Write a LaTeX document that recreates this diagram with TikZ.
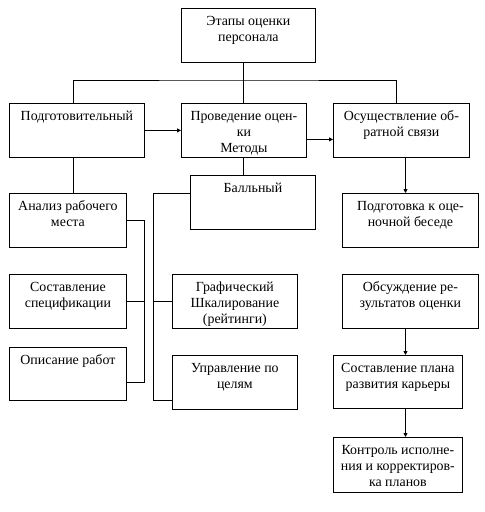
\documentclass[tikz,border=0pt]{standalone}
\usepackage{fontspec}
\setmainfont{Liberation Serif}
\usetikzlibrary{arrows.meta}
\newcommand\stagetext[3]{\parbox[c][#2][t]{#1}{\centering\rule{0pt}{17.5pt}#3\par}}
\begin{document}
\begin{tikzpicture}[
  x=1pt, y=-1pt,
  stage/.style={draw, line width=0.8pt, inner sep=0pt, anchor=north west,
    font=\fontsize{13.9}{15.7}\selectfont},
  link/.style={line width=0.8pt},
  arrow/.style={-{Triangle[length=4pt,width=4pt]}, line width=0.8pt}
]
\useasboundingbox (0,0) rectangle (485,512);
% top and the three stages
\node[stage] (top) at (181,8) {\stagetext{134pt}{54pt}{Этапы оценки\\персонала}};
\node[stage] (prep) at (9,103) {\stagetext{135pt}{54pt}{Подготовительный}};
\node[stage] (conduct) at (181,103) {\stagetext{125pt}{54pt}{Проведение оцен-\\ки\\Методы}};
\node[stage] (feedback) at (333,103) {\stagetext{136pt}{54pt}{Осуществление об-\\ратной связи}};
% left column
\node[stage] (analysis) at (9,193) {\stagetext{117pt}{54pt}{Анализ рабочего\\места}};
\node[stage] (spec) at (9,274) {\stagetext{117pt}{54pt}{Составление\\спецификации}};
\node[stage] (descr) at (9,347) {\stagetext{117pt}{53pt}{Описание работ}};
% methods
\node[stage] (ball) at (190,175) {\stagetext{125pt}{54pt}{Балльный}};
\node[stage] (graph) at (172,274) {\stagetext{125pt}{54pt}{Графический\\Шкалирование\\(рейтинги)}};
\node[stage] (goals) at (172,355) {\stagetext{125pt}{54pt}{Управление по\\целям}};
% right column
\node[stage] (talkprep) at (342,193) {\stagetext{136pt}{54pt}{Подготовка к оце-\\ночной беседе}};
\node[stage] (discuss) at (342,274) {\stagetext{136pt}{54pt}{Обсуждение ре-\\зультатов оценки}};
\node[stage] (career) at (333,355) {\stagetext{129pt}{53pt}{Составление плана\\развития карьеры}};
\node[stage] (control) at (333,437) {\stagetext{129pt}{55pt}{Контроль исполне-\\ния и корректиров-\\ка планов}};
% line columns
\coordinate (bus) at (243,80);
\coordinate (lx) at (73,0);
\coordinate (rx) at (405.5,0);
\coordinate (bx) at (144,0);
\coordinate (mx) at (153,0);
% tree
\draw[link] (top.south -| bus) -- (conduct.north -| bus);
\draw[link] (prep.north -| lx) |- (bus) -| ([xshift=-5pt]feedback.north);
\draw[arrow] (prep) -- (conduct);
\draw[arrow] ([yshift=-9pt]conduct.east) -- ([yshift=-9pt]conduct.east -| feedback.west);
\draw[link] (prep.south -| lx) -- (analysis.north -| lx);
\draw[link] (conduct.south -| bus) -- (ball.north -| bus);
\draw[arrow] (feedback.south -| rx) -- (talkprep.north -| rx);
% brackets
\draw[link] (analysis.east) -| ([yshift=-8.5pt]descr.east -| bx) -- ([yshift=-8.5pt]descr.east);
\draw[link] (spec.east) -- (spec.east -| bx);
\draw[link] ([yshift=9pt]ball.west) -| ([yshift=-18pt]goals.west -| mx) -- ([yshift=-18pt]goals.west);
\draw[link] (graph.west) -- (graph.west -| mx);
% feedback steps
\draw[arrow] (discuss.south -| rx) -- (career.north -| rx);
\draw[arrow] (career.south -| rx) -- (control.north -| rx);
\end{tikzpicture}
\end{document}
